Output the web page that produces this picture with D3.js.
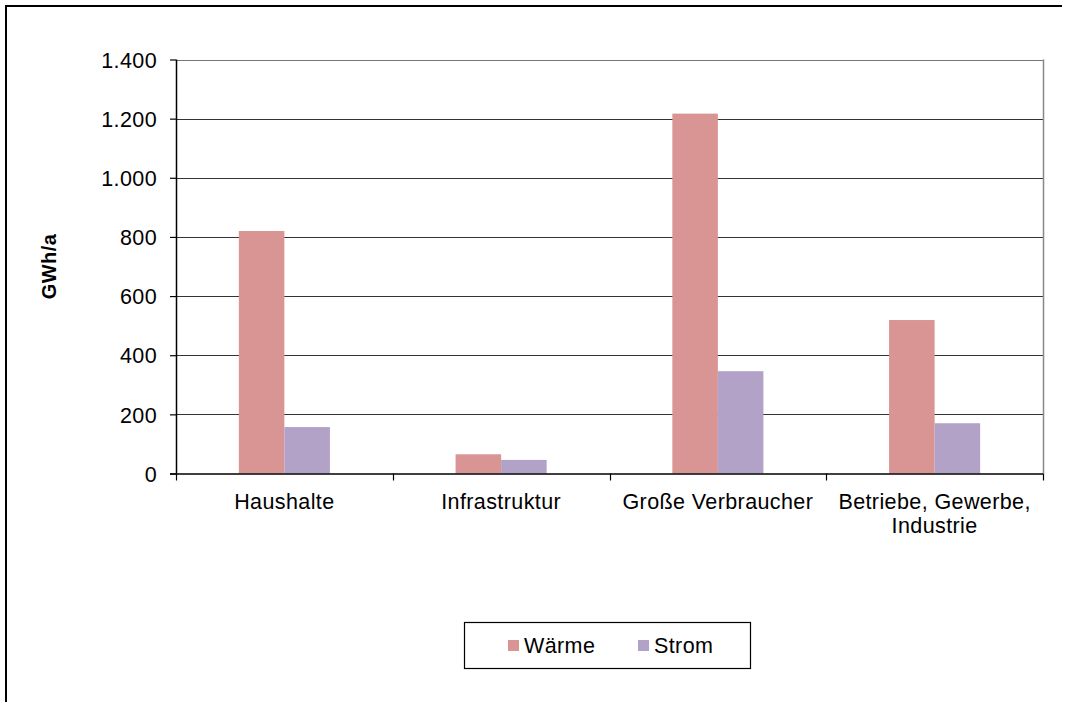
<!DOCTYPE html>
<html>
<head>
    <title>Energieverbrauch</title>
    <script src="https://d3js.org/d3.v7.min.js"></script>
    <style>
        body { margin: 0; background: #fff; }
        text { font-family: "Liberation Sans", Arial, sans-serif; fill: #000; letter-spacing: 0.4px; }
    </style>
</head>
<body>
    <div id="chart"></div>
    <script>
        // data
        const categories = ["Haushalte", "Infrastruktur", "Große Verbraucher", "Betriebe, Gewerbe, Industrie"];
        const categoryLines = [["Haushalte"], ["Infrastruktur"], ["Große Verbraucher"], ["Betriebe, Gewerbe,", "Industrie"]];
        const seriesNames = ["Wärme", "Strom"];
        const waerme = [820, 65, 1217, 519];
        const strom = [157, 46, 346, 170];
        const yTicks = [0, 200, 400, 600, 800, 1000, 1200, 1400];

        const colors = { "Wärme": "#d99594", "Strom": "#b3a2c7" };
        const values = { "Wärme": waerme, "Strom": strom };

        const width = 1067, height = 702;
        const plotLeft = 176, plotRight = 1043, plotTop = 59.5, plotBottom = 473.5;
        const fontSize = 21.5;

        const svg = d3.select("#chart").append("svg")
            .attr("width", width)
            .attr("height", height);

        // outer chart frame (top + left visible)
        svg.append("path")
            .attr("d", "M6,702 L6,6 L1062,6")
            .attr("fill", "none")
            .attr("stroke", "#000")
            .attr("stroke-width", 2);

        const x = d3.scaleBand().domain(categories).range([plotLeft, plotRight]);
        const x1 = d3.scaleBand().domain(seriesNames)
            .range([0, x.bandwidth()])
            .paddingInner(0)
            .paddingOuter(1.38);
        const y = d3.scaleLinear().domain([0, 1400]).range([plotBottom, plotTop]);

        // gridlines
        svg.append("g")
            .selectAll("line")
            .data(yTicks.filter(d => d > 0))
            .enter().append("line")
            .attr("x1", plotLeft).attr("x2", plotRight)
            .attr("y1", d => Math.round(y(d)) + 0.5)
            .attr("y2", d => Math.round(y(d)) + 0.5)
            .attr("stroke", d => d === 1400 ? "#777" : "#333")
            .attr("stroke-width", 1.2);

        // right plot border
        svg.append("line")
            .attr("x1", plotRight + 0.5).attr("x2", plotRight + 0.5)
            .attr("y1", plotTop).attr("y2", plotBottom)
            .attr("stroke", "#888").attr("stroke-width", 1.5);

        // bars
        const groups = svg.append("g")
            .selectAll("g")
            .data(categories)
            .enter().append("g")
            .attr("transform", d => `translate(${x(d)},0)`);

        groups.selectAll("rect")
            .data((d, i) => seriesNames.map(s => ({ s, v: values[s][i] })))
            .enter().append("rect")
            .attr("x", d => x1(d.s))
            .attr("width", x1.bandwidth())
            .attr("y", d => y(d.v))
            .attr("height", d => y(0) - y(d.v))
            .attr("fill", d => colors[d.s]);

        // y axis
        const yAxis = svg.append("g")
            .attr("transform", `translate(${plotLeft},0)`)
            .call(d3.axisLeft(y).tickValues(yTicks).tickSize(6).tickPadding(13)
                .tickFormat(d => d3.format(",")(d).replace(/,/g, ".")));
        yAxis.select(".domain").attr("stroke", "#000").attr("stroke-width", 1.5)
            .attr("d", `M0.5,${plotTop}V${plotBottom}`);
        yAxis.selectAll(".tick line").attr("stroke", "#000").attr("stroke-width", 1.2);
        yAxis.selectAll(".tick text")
            .attr("font-size", fontSize)
            .attr("font-family", "Liberation Sans, Arial, sans-serif")
            .attr("fill", "#000")
            .attr("dy", "0.36em");

        // x axis
        const xAxis = svg.append("g")
            .attr("transform", `translate(0,${plotBottom})`);
        xAxis.append("line")
            .attr("x1", plotLeft - 6).attr("x2", plotRight)
            .attr("y1", 0.5).attr("y2", 0.5)
            .attr("stroke", "#000").attr("stroke-width", 1.5);
        xAxis.selectAll(".xt")
            .data(categories.map(c => x(c)).concat([plotRight]))
            .enter().append("line")
            .attr("x1", d => Math.round(d) + 0.5).attr("x2", d => Math.round(d) + 0.5)
            .attr("y1", 0).attr("y2", 7)
            .attr("stroke", "#000").attr("stroke-width", 1.2);

        const labels = svg.append("g")
            .selectAll("text")
            .data(categories)
            .enter().append("text")
            .attr("x", d => x(d) + x.bandwidth() / 2)
            .attr("y", 509)
            .attr("text-anchor", "middle")
            .attr("font-size", fontSize);
        labels.each(function (d, i) {
            const t = d3.select(this);
            categoryLines[i].forEach((line, j) => {
                t.append("tspan")
                    .attr("x", x(d) + x.bandwidth() / 2)
                    .attr("dy", j === 0 ? 0 : 24)
                    .text(line);
            });
        });

        // y title
        svg.append("text")
            .attr("transform", `translate(56,${(plotTop + plotBottom) / 2}) rotate(-90)`)
            .attr("text-anchor", "middle")
            .attr("font-size", 20)
            .attr("font-weight", "bold")
            .text("GWh/a");

        // legend
        const legend = svg.append("g");
        legend.append("rect")
            .attr("x", 464.5).attr("y", 622.5)
            .attr("width", 286).attr("height", 46)
            .attr("fill", "#fff").attr("stroke", "#000").attr("stroke-width", 1.2);
        const legendX = [508, 638];
        const items = legend.selectAll("g.item")
            .data(seriesNames)
            .enter().append("g")
            .attr("transform", (d, i) => `translate(${legendX[i]},640)`);
        items.append("rect")
            .attr("width", 11).attr("height", 11)
            .attr("fill", d => colors[d]);
        items.append("text")
            .attr("x", 16).attr("y", 13)
            .attr("font-size", fontSize)
            .text(d => d);
    </script>
</body>
</html>
